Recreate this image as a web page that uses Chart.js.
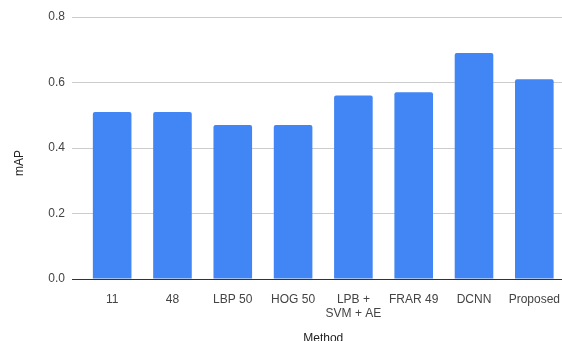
<!DOCTYPE html>
<html>
<head>
<meta charset="utf-8">
<script src="https://cdn.jsdelivr.net/npm/chart.js@4/dist/chart.umd.min.js"></script>
<style>
  html, body { margin: 0; padding: 0; background: #fff; overflow: hidden; }
  #wrap { width: 562px; height: 341px; overflow: hidden; position: relative; }
  canvas { display: block; }
</style>
</head>
<body>
<div id="wrap"><canvas id="c" width="565" height="350"></canvas></div>
<script>
const categories = ["11", "48", "LBP 50", "HOG 50", ["LPB +", "SVM + AE"], "FRAR 49", "DCNN", "Proposed"];
const mapValues = [0.51, 0.51, 0.47, 0.47, 0.56, 0.57, 0.69, 0.61];
const yTicks = [0, 0.2, 0.4, 0.6, 0.8];
const xTitle = "Method";
const yTitle = "mAP";

const FONT = "'Liberation Sans', Arial, sans-serif";

new Chart(document.getElementById('c'), {
  type: 'bar',
  data: {
    labels: categories,
    datasets: [{
      label: yTitle,
      data: mapValues,
      backgroundColor: '#4285F4',
      borderRadius: 2,
      borderSkipped: 'start',
      categoryPercentage: 1.0,
      barPercentage: 0.64
    }]
  },
  options: {
    responsive: false,
    animation: false,
    devicePixelRatio: 1,
    layout: { padding: { top: 17, left: 0, right: 0, bottom: 0 } },
    plugins: { legend: { display: false }, tooltip: { enabled: false } },
    scales: {
      x: {
        grid: { display: false },
        border: { display: false },
        ticks: { color: '#444', font: { family: FONT, size: 12 }, padding: 5, maxRotation: 0, autoSkip: false },
        title: { display: true, text: xTitle, color: '#222', font: { family: FONT, size: 12 }, padding: { top: 0, bottom: 4 } },
        afterFit: (s) => { s.height = 350 - 279; }
      },
      y: {
        min: 0,
        max: 0.8,
        afterBuildTicks: (s) => { s.ticks = yTicks.map(v => ({ value: v })); },
        grid: {
          color: (ctx) => (ctx.tick && ctx.tick.value === 0) ? '#333333' : '#cccccc',
          drawTicks: true,
          tickLength: 10
        },
        border: { display: false },
        ticks: {
          color: '#444',
          font: { family: FONT, size: 12 },
          padding: 7,
          callback: (v) => Number(v).toFixed(1)
        },
        title: { display: true, text: yTitle + "         ", color: '#222', font: { family: FONT, size: 12 }, padding: { top: 12, bottom: 0 } },
        afterFit: (s) => { s.width = 82; }
      }
    }
  }
});
</script>
</body>
</html>
